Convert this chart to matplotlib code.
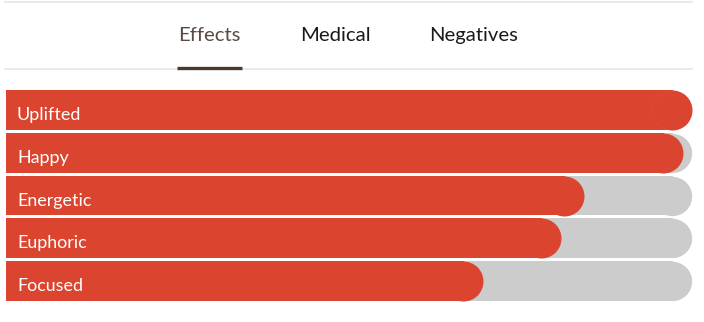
import matplotlib

matplotlib.use("Agg")
import matplotlib.pyplot as plt
from matplotlib.lines import Line2D

# data
effects = ["Uplifted", "Happy", "Energetic", "Euphoric", "Focused"]
scores = [100.0, 98.7, 84.3, 80.9, 69.5]
tabs = ["Effects", "Medical", "Negatives"]
tab_x = [209, 335, 474]
active_tab = 0

RED = "#db4530"
GREY = "#cccccc"
FONT = ["Lato", "DejaVu Sans"]

W, H, DPI = 704, 322, 100
fig = plt.figure(figsize=(W / DPI, H / DPI), dpi=DPI)
fig.patch.set_facecolor("white")

# header (pixel coords on a full-figure axes)
hdr = fig.add_axes([0, 0, 1, 1])
hdr.set_xlim(0, W)
hdr.set_ylim(H, 0)
hdr.axis("off")
hdr.add_line(Line2D([5, 692], [2, 2], color="#e6e6e6", lw=1.2))
hdr.add_line(Line2D([5, 692], [69, 69], color="#e6e6e6", lw=1.2))
for i, (t, x) in enumerate(zip(tabs, tab_x)):
    col = "#5b4a42" if i == active_tab else "#1a1a1a"
    hdr.text(x, 35, t, ha="center", va="center", fontsize=14.6, color=col, family=FONT)
hdr.add_line(Line2D([177, 242], [67.5, 67.5], color="#4d3a2e", lw=2.4, solid_capstyle="butt"))

# bars
left, right, top, bottom = 6, 692, 90, 301
ax = fig.add_axes([left / W, 1 - bottom / H, (right - left) / W, (bottom - top) / H])
ax.axis("off")
bar_px = 40
pitch_px = (bottom - top + (43 - bar_px)) / len(effects)
bh = bar_px / pitch_px
ax.set_xlim(0, 100)
ax.set_ylim(len(effects) - 1 + bh / 2, -bh / 2)

r = (bar_px / 2) / (right - left) * 100  # cap radius in % units
ms = bar_px * 72 / DPI
overlap = 0.15  # push the body a little under the cap to hide the seam

ys = list(range(len(effects)))
for y, v, name in zip(ys, scores, effects):
    # grey track, end cap a hair smaller so no halo shows under a full red bar
    ax.barh(y, 100 - r + overlap, height=bh, left=0, color=GREY, lw=0)
    ax.plot([100 - r], [y], "o", ms=ms - 0.5, color=GREY, mew=0)
    ax.barh(y, v - r + overlap, height=bh, left=0, color=RED, lw=0)
    ax.plot([v - r], [y], "o", ms=ms, color=RED, mew=0)
    ax.text(1.6, y + 0.12, name, ha="left", va="center", fontsize=12.9,
            color="white", family=FONT)

fig.savefig("out.png", dpi=DPI)
